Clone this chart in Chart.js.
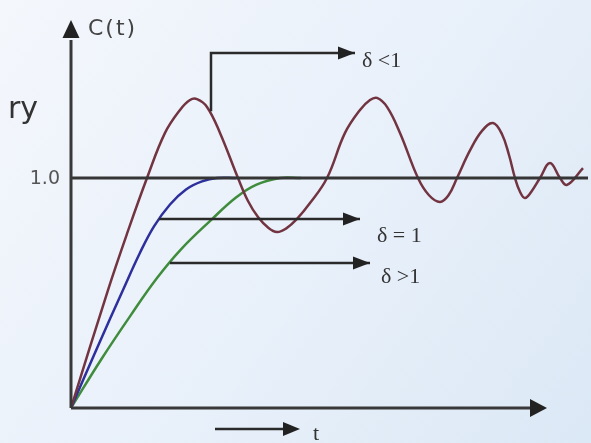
<!DOCTYPE html>
<html>
<head>
<meta charset="utf-8">
<title>Second-order step response</title>
<script src="https://cdn.jsdelivr.net/npm/chart.js@4/dist/chart.umd.min.js"></script>
<style>
  html, body { margin: 0; padding: 0; background: #eaf1f9; }
  #wrap { width: 591px; height: 443px; }
</style>
</head>
<body>
<div id="wrap"><canvas id="c" width="591" height="443"></canvas></div>
<script>
// Step responses of a second-order system for three damping ratios
const redT   = [0, 0.74, 1.14, 1.52, 1.88, 2.18, 2.38, 2.52, 2.72, 2.98, 3.34, 3.54, 3.74, 3.94, 4.12, 4.3, 4.52, 4.78, 5.12,
                5.48, 5.78, 5.98, 6.12, 6.32, 6.58, 6.94, 7.16, 7.38, 7.55, 7.72, 7.98, 8.22, 8.44, 8.62, 8.76, 8.88,
                8.98, 9.08, 9.22, 9.38, 9.58, 9.78, 9.92, 10.24];
const redC   = [0, 0.513, 0.77, 1.0, 1.196, 1.296, 1.339, 1.343, 1.309, 1.196, 1.0, 0.9, 0.83, 0.785, 0.765, 0.78, 0.822, 0.891, 1.0,
                1.196, 1.296, 1.339, 1.348, 1.309, 1.196, 1.0, 0.925, 0.896, 0.925, 1.0, 1.12, 1.205, 1.239, 1.19, 1.1, 1.0,
                0.94, 0.913, 0.945, 1.0, 1.065, 1.0, 0.970, 1.043];
const blueT  = [0, 0.52, 1.04, 1.38, 1.66, 1.98, 2.3, 2.62, 2.92, 3.3];
const blueC  = [0, 0.26, 0.513, 0.675, 0.79, 0.885, 0.95, 0.985, 1.0, 1.0];
const greenT = [0, 0.6, 1.2, 1.72, 2.2, 2.8, 3.3, 3.7, 4.18, 4.6];
const greenC = [0, 0.21, 0.405, 0.565, 0.69, 0.817, 0.915, 0.97, 1.0, 1.0];

// Final value reference line and its tick
const refT = [0, 10.34];
const refC = [1.0, 1.0];
const yTickValues = [1.0];
const yTickLabels = ['1.0'];

// Pointer arrows and their damping-ratio labels
const arrowPaths = [
  [[2.8, 1.29], [2.8, 1.543], [5.68, 1.543]],
  [[1.76, 0.822], [5.78, 0.822]],
  [[1.98, 0.630], [5.98, 0.630]]
];
const arrowLabels = ['δ <1', 'δ = 1', 'δ >1'];
const labelPos = [[5.82, 1.483], [6.12, 0.722], [6.2, 0.543]];

// Time direction arrow below the axis
const timeArrow = [[2.88, -0.091], [4.58, -0.091]];
const timeLabel = 't';
const timeLabelPos = [4.84, -0.139];
const axisTitle = 'C(t)';
const sideText = 'ry';

const toXY = (ts, cs) => ts.map((t, i) => ({ x: t, y: cs[i] }));

function arrowHead(ctx, x1, y1, x2, y2, len, half) {
  const a = Math.atan2(y2 - y1, x2 - x1);
  ctx.beginPath();
  ctx.moveTo(x2, y2);
  ctx.lineTo(x2 - len * Math.cos(a) + half * Math.sin(a), y2 - len * Math.sin(a) - half * Math.cos(a));
  ctx.lineTo(x2 - len * Math.cos(a) - half * Math.sin(a), y2 - len * Math.sin(a) + half * Math.cos(a));
  ctx.closePath();
  ctx.fill();
}

const backdrop = {
  id: 'backdrop',
  beforeDraw(chart) {
    const { ctx, width, height } = chart;
    const g = ctx.createLinearGradient(0, 0, width, height);
    g.addColorStop(0, '#f4f7fc');
    g.addColorStop(0.55, '#e8f0fa');
    g.addColorStop(1, '#dbe8f5');
    ctx.save();
    ctx.fillStyle = g;
    ctx.fillRect(0, 0, width, height);
    ctx.restore();
  }
};

const decorations = {
  id: 'decorations',
  afterDatasetsDraw(chart) {
    const { ctx } = chart;
    const xs = chart.scales.x, ys = chart.scales.y;
    const px = v => xs.getPixelForValue(v);
    const py = v => ys.getPixelForValue(v);
    const x0 = px(0), y0 = py(0);
    ctx.save();

    // Axes with arrowheads
    ctx.strokeStyle = '#383838';
    ctx.fillStyle = '#222';
    ctx.lineWidth = 3;
    ctx.beginPath();
    ctx.moveTo(x0, y0);
    ctx.lineTo(x0, py(1.6));
    ctx.stroke();
    arrowHead(ctx, x0, y0, x0, py(1.687), 18, 8.5);
    ctx.beginPath();
    ctx.moveTo(x0, y0);
    ctx.lineTo(px(9.2), y0);
    ctx.stroke();
    arrowHead(ctx, x0, y0, px(9.52), y0, 17, 9);

    // Pointer arrows
    ctx.lineWidth = 2.5;
    ctx.strokeStyle = '#2a2a2a';
    arrowPaths.forEach(path => {
      ctx.beginPath();
      path.forEach(([t, c], i) => {
        const x = px(t), y = py(c);
        if (i === 0) ctx.moveTo(x, y); else ctx.lineTo(x, y);
      });
      const [pt, pc] = path[path.length - 2];
      const [lt, lc] = path[path.length - 1];
      ctx.stroke();
      arrowHead(ctx, px(pt), py(pc), px(lt), py(lc), 17, 6.5);
    });
    ctx.beginPath();
    ctx.moveTo(px(timeArrow[0][0]), py(timeArrow[0][1]));
    ctx.lineTo(px(timeArrow[1][0]) - 10, py(timeArrow[1][1]));
    ctx.stroke();
    arrowHead(ctx, px(timeArrow[0][0]), py(timeArrow[0][1]), px(timeArrow[1][0]), py(timeArrow[1][1]), 17, 7);

    // Damping labels
    ctx.fillStyle = '#333';
    ctx.font = '22px "Liberation Serif", "DejaVu Serif", serif';
    ctx.textAlign = 'left';
    ctx.textBaseline = 'alphabetic';
    arrowLabels.forEach((s, i) => ctx.fillText(s, px(labelPos[i][0]), py(labelPos[i][1])));
    ctx.fillText(timeLabel, px(timeLabelPos[0]), py(timeLabelPos[1]));

    // Axis title, tick label, side text
    ctx.fillStyle = '#444';
    ctx.font = '22px "DejaVu Sans", sans-serif';
    ctx.letterSpacing = '2px';
    ctx.fillText(axisTitle, x0 + 17, py(1.622));
    ctx.letterSpacing = '0px';
    ctx.font = '19px "DejaVu Sans", sans-serif';
    ctx.fillStyle = '#555';
    ctx.textAlign = 'right';
    ctx.textBaseline = 'middle';
    yTickValues.forEach((v, i) => ctx.fillText(yTickLabels[i], x0 - 11, py(v) + 1));
    ctx.fillStyle = '#333';
    ctx.font = '30px "DejaVu Sans", sans-serif';
    ctx.textBaseline = 'alphabetic';
    ctx.fillText(sideText, 38, py(1.26));
    ctx.restore();
  }
};

const lineStyle = { pointRadius: 0, borderWidth: 2.5, tension: 0.4, fill: false };

new Chart(document.getElementById('c'), {
  type: 'line',
  data: {
    datasets: [
      { label: 'final value', data: toXY(refT, refC), borderColor: '#353535', borderWidth: 3, pointRadius: 0, order: 0 },
      { label: 'δ < 1', data: toXY(redT, redC), borderColor: '#733442', order: 1, ...lineStyle },
      { label: 'δ = 1', data: toXY(blueT, blueC), borderColor: '#2c2f9c', order: 2, ...lineStyle },
      { label: 'δ > 1', data: toXY(greenT, greenC), borderColor: '#3f8c3c', order: 3, ...lineStyle }
    ]
  },
  options: {
    responsive: false,
    animation: false,
    layout: { padding: { left: 71, right: 0, top: 17, bottom: 35 } },
    plugins: { legend: { display: false }, tooltip: { enabled: false } },
    scales: {
      x: { type: 'linear', min: 0, max: 10.4, display: false },
      y: { type: 'linear', min: 0, max: 1.7, display: false }
    }
  },
  plugins: [backdrop, decorations]
});
</script>
</body>
</html>
